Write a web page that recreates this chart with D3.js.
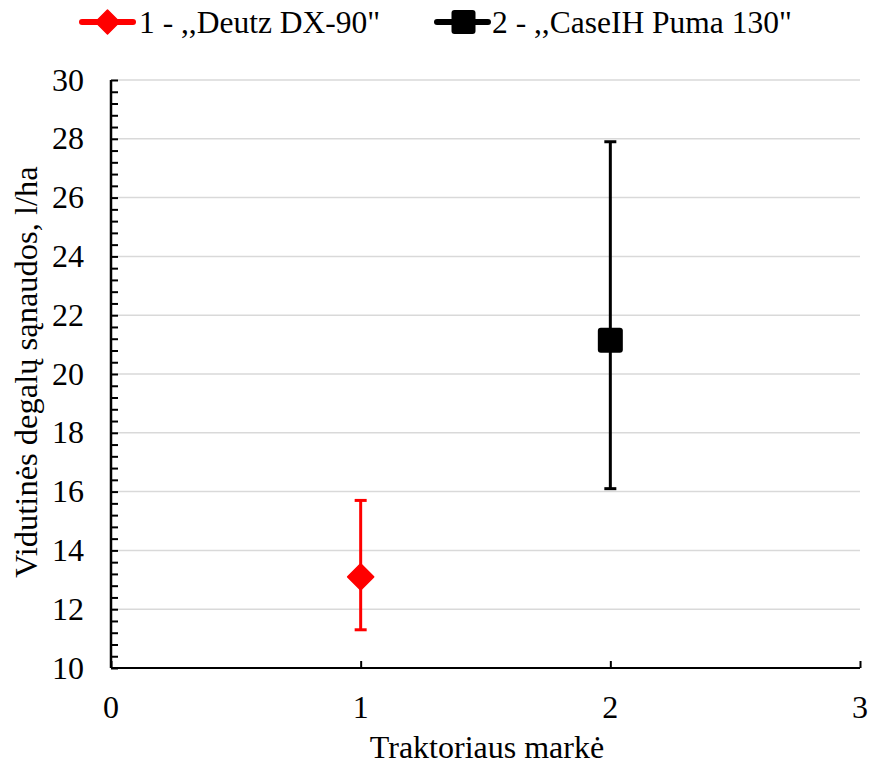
<!DOCTYPE html>
<html>
<head>
<meta charset="utf-8">
<script src="https://cdn.jsdelivr.net/npm/d3@7"></script>
<style>
  body { margin: 0; background: #fff; }
  svg text { font-family: 'Liberation Serif', 'Times New Roman', serif; fill: #000; }
</style>
</head>
<body>
<div id="chart"></div>
<script>
const width = 871, height = 764;
const margin = { top: 80, right: 11, bottom: 96, left: 111 };

// data
const seriesNames = ['1 - ,,Deutz DX-90"', '2 - ,,CaseIH Puma 130"'];
const xValues = [1, 2];
const means = [13.1, 21.15];
const lower = [11.3, 16.1];
const upper = [15.7, 27.9];
const colors = ['#ff0000', '#000000'];
const yTicks = [10, 12, 14, 16, 18, 20, 22, 24, 26, 28, 30];
const xTicks = [0, 1, 2, 3];

const svg = d3.select('#chart').append('svg')
    .attr('width', width)
    .attr('height', height)
    .attr('font-family', 'Liberation Serif, serif');

const x = d3.scaleLinear()
    .domain([0, 3])
    .range([margin.left, width - margin.right]);

const y = d3.scaleLinear()
    .domain([10, 30])
    .range([height - margin.bottom, margin.top]);

// gridlines
svg.append('g')
    .selectAll('line')
    .data(yTicks.slice(1))
    .enter()
    .append('line')
    .attr('x1', x(0))
    .attr('x2', x(3))
    .attr('y1', d => y(d))
    .attr('y2', d => y(d))
    .attr('stroke', '#d9d9d9')
    .attr('stroke-width', 1.5);

// Y axis (ticks inside, minor every 0.4)
const minor = d3.range(10, 30.001, 0.4);
const yAxis = svg.append('g')
    .attr('transform', `translate(${x(0)},0)`)
    .call(d3.axisRight(y).tickValues(minor).tickSize(7).tickFormat(''));
yAxis.select('.domain').remove();
yAxis.selectAll('line').attr('stroke', '#000').attr('stroke-width', 2);

svg.append('line')
    .attr('x1', x(0)).attr('x2', x(0))
    .attr('y1', y(30)).attr('y2', y(10))
    .attr('stroke', '#000').attr('stroke-width', 2.5);

svg.append('g')
    .selectAll('text')
    .data(yTicks)
    .enter()
    .append('text')
    .attr('x', x(0) - 27)
    .attr('y', d => y(d))
    .attr('dy', '0.33em')
    .attr('text-anchor', 'end')
    .style('font-size', '32px')
    .text(d => d);

// X axis (ticks inside)
const xAxis = svg.append('g')
    .attr('transform', `translate(0,${y(10)})`)
    .call(d3.axisTop(x).tickValues(xTicks).tickSize(7).tickFormat(''));
xAxis.select('.domain').remove();
xAxis.selectAll('line').attr('stroke', '#000').attr('stroke-width', 2);

svg.append('line')
    .attr('x1', x(0)).attr('x2', x(3))
    .attr('y1', y(10)).attr('y2', y(10))
    .attr('stroke', '#000').attr('stroke-width', 2);

svg.append('g')
    .selectAll('text')
    .data(xTicks)
    .enter()
    .append('text')
    .attr('x', d => x(d))
    .attr('y', y(10) + 50)
    .attr('text-anchor', 'middle')
    .style('font-size', '32px')
    .text(d => d);

// axis titles
svg.append('text')
    .attr('x', 487)
    .attr('y', 758)
    .attr('text-anchor', 'middle')
    .style('font-size', '32px')
    .text('Traktoriaus markė');

svg.append('text')
    .attr('transform', 'rotate(-90)')
    .attr('x', -372)
    .attr('y', 37)
    .attr('text-anchor', 'middle')
    .style('font-size', '32.5px')
    .text('Vidutinės degalų sąnaudos, l/ha');

// error bars
const bars = svg.append('g');
xValues.forEach((xv, i) => {
    const c = colors[i];
    bars.append('line')
        .attr('x1', x(xv)).attr('x2', x(xv))
        .attr('y1', y(upper[i])).attr('y2', y(lower[i]))
        .attr('stroke', c).attr('stroke-width', 3);
    [upper[i], lower[i]].forEach(v => {
        bars.append('line')
            .attr('x1', x(xv) - 6).attr('x2', x(xv) + 6)
            .attr('y1', y(v)).attr('y2', y(v))
            .attr('stroke', c).attr('stroke-width', 3);
    });
});

// markers
function marker(g, i, cx, cy, s) {
    if (i === 0) {
        g.append('path')
            .attr('d', `M${cx},${cy - s}L${cx + s},${cy}L${cx},${cy + s}L${cx - s},${cy}Z`)
            .attr('fill', colors[i])
            .attr('stroke', colors[i])
            .attr('stroke-width', 1.5)
            .attr('stroke-linejoin', 'round');
    } else {
        g.append('rect')
            .attr('x', cx - s).attr('y', cy - s)
            .attr('width', 2 * s).attr('height', 2 * s)
            .attr('rx', 3)
            .attr('fill', colors[i]);
    }
}

xValues.forEach((xv, i) => {
    marker(svg, i, x(xv), y(means[i]), i === 0 ? 13 : 12.5);
});

// legend
const legendX = [80, 435];
seriesNames.forEach((name, i) => {
    const g = svg.append('g').attr('transform', `translate(${legendX[i]},22)`);
    g.append('line')
        .attr('x1', 2).attr('x2', 53)
        .attr('y1', 0).attr('y2', 0)
        .attr('stroke', colors[i]).attr('stroke-width', 6)
        .attr('stroke-linecap', 'round');
    marker(g, i, i === 0 ? 27.5 : 28.5, 0, 12);
    g.append('text')
        .attr('x', i === 0 ? 59 : 57)
        .attr('y', 10.5)
        .style('font-size', '31.5px')
        .text(name);
});
</script>
</body>
</html>
